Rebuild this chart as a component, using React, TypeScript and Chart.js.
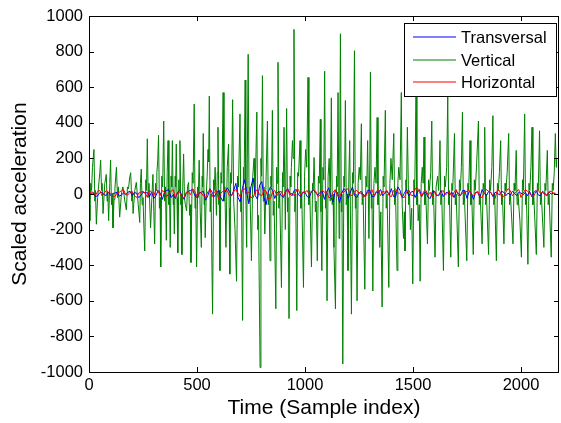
import React, { useEffect, useRef } from "react";
import { Chart, registerables } from "chart.js";

Chart.register(...registerables);

// Vertical channel: [sample index, scaled acceleration]
const verticalSamples: [number, number][] = [
  [0, -60], [4, -150], [8, 60], [12, 20], [16, 150], [23, 250], [27, -40], [30, 20], [34, -170], [40, -20],
  [44, 40], [50, 120], [54, 190], [58, 20], [61, 60], [65, -110], [73, 60], [80, 110], [84, -40], [87, 10],
  [91, -150], [96, 60], [100, 190], [104, -60], [107, 0], [111, -190], [116, -30], [120, 30], [127, 150], [132, -20],
  [136, 40], [142, -130], [150, 0], [157, 40], [166, -40], [173, -90], [178, 40], [183, 30], [188, 90], [193, 120],
  [198, -40], [201, 10], [204, -110], [212, 20], [219, 65], [228, -60], [235, -160], [238, 60], [242, 140], [246, -60],
  [250, -20], [254, -180], [258, -320], [263, 80], [266, 20], [270, 310], [274, -20], [278, 60], [285, -190], [291, -20],
  [296, 110], [300, -100], [304, -280], [308, 60], [311, 20], [314, 120], [318, 180], [322, 330], [326, -80], [329, -20],
  [332, -410], [337, 100], [341, 40], [346, 410], [350, -40], [354, 40], [358, -260], [362, 120], [366, 300], [370, -60],
  [373, 0], [376, -300], [380, 100], [383, 40], [386, 300], [390, -60], [392, 0], [395, -225], [399, 100], [401, 40],
  [404, 280], [408, -80], [410, -20], [412, -330], [416, 80], [418, 20], [421, 300], [425, -60], [427, 0], [430, -340],
  [434, 40], [438, 225], [442, -20], [446, -60], [452, -95], [456, 40], [461, 65], [466, -120], [469, -60], [472, -385],
  [478, 120], [482, 60], [487, 505], [491, -80], [494, 0], [498, -410], [503, 40], [506, -20], [510, 190], [515, -100],
  [520, -300], [524, 100], [526, 40], [529, 340], [533, -60], [535, 0], [538, -245], [543, 0], [547, 100], [551, 250],
  [554, 180], [557, 550], [561, -100], [565, 0], [572, -675], [577, 80], [580, 20], [584, 150], [590, -120], [594, 120],
  [597, 375], [601, -60], [603, 20], [606, -430], [611, 120], [615, 60], [621, 570], [625, -40], [629, 40], [634, -300],
  [640, 150], [646, 280], [649, -80], [652, -450], [656, 120], [660, 60], [665, 530], [670, -40], [676, -200], [683, -490],
  [688, 100], [692, 40], [699, 450], [703, -100], [706, 0], [711, -710], [715, 150], [718, 60], [723, 640], [726, 0],
  [730, -300], [733, 200], [737, 785], [741, -40], [745, 40], [752, -375], [758, 100], [764, 200], [768, 0], [771, 100],
  [777, 460], [781, -200], [785, -120], [792, -975], [796, 200], [799, 100], [803, 665], [807, -40], [810, 40], [814, -225],
  [820, 100], [826, 410], [830, -60], [834, 0], [838, -375], [842, 100], [845, 40], [849, 470], [853, -120], [857, -40],
  [865, -645], [869, 150], [872, 60], [875, 740], [879, -80], [883, 0], [891, -525], [896, 120], [899, 40], [903, 375],
  [909, -200], [915, 480], [919, -100], [922, -20], [926, -700], [931, 100], [934, 40], [937, 150], [942, 300], [945, 200],
  [949, 925], [953, -100], [957, 0], [962, -655], [966, 120], [970, 100], [977, 300], [981, -80], [985, 0], [993, -525],
  [998, 100], [1003, 250], [1008, 150], [1014, 655], [1018, -60], [1022, 20], [1030, -410], [1035, 60], [1038, 20], [1042, 205],
  [1048, -100], [1052, -40], [1057, -375], [1062, 100], [1066, 60], [1071, 420], [1074, -100], [1078, -430], [1083, 150], [1087, 80],
  [1091, 690], [1095, -80], [1098, 0], [1102, -600], [1107, 100], [1112, 200], [1117, -40], [1122, 540], [1126, -60], [1130, 0],
  [1134, -300], [1141, -645], [1146, 100], [1149, 40], [1153, 570], [1158, -250], [1161, 200], [1164, 900], [1168, -100], [1171, 0],
  [1175, -955], [1180, 100], [1183, 40], [1187, 525], [1191, -60], [1195, 0], [1199, -430], [1203, 100], [1207, 300], [1211, -200],
  [1215, -675], [1220, 120], [1224, 60], [1229, 805], [1233, -80], [1236, 0], [1241, -600], [1246, 60], [1251, 150], [1256, 80],
  [1261, 395], [1265, -60], [1269, 0], [1277, -535], [1282, 100], [1286, 40], [1290, 300], [1296, -250], [1300, 200], [1303, 685],
  [1307, -80], [1310, 0], [1314, -545], [1319, 60], [1324, 150], [1329, 60], [1334, 430], [1338, -60], [1342, 20], [1346, -300],
  [1351, -100], [1357, -635], [1362, 100], [1366, 40], [1372, 470], [1376, -80], [1380, 0], [1388, -525], [1393, 60], [1398, 200],
  [1404, 80], [1411, 340], [1415, -60], [1419, 20], [1426, -430], [1430, 60], [1434, 150], [1440, 80], [1446, 570], [1450, -60],
  [1456, -250], [1460, -100], [1463, -320], [1467, 80], [1470, 20], [1474, 375], [1480, -60], [1484, 0], [1488, -200], [1494, -80],
  [1499, -505], [1504, 80], [1508, 20], [1514, 545], [1518, -60], [1521, 20], [1524, -150], [1529, -60], [1533, -490], [1538, 60],
  [1543, 150], [1547, 60], [1551, 320], [1555, -60], [1559, 0], [1567, -280], [1572, 80], [1576, 20], [1582, 120], [1587, 410],
  [1591, -60], [1595, 20], [1602, -355], [1607, 40], [1614, 100], [1619, 20], [1625, 300], [1629, -60], [1633, 0], [1641, -430],
  [1646, 100], [1650, 40], [1656, 150], [1661, 545], [1665, -60], [1668, 20], [1675, -355], [1680, 60], [1684, 20], [1692, 340],
  [1696, -60], [1700, 0], [1710, -410], [1715, 80], [1719, 20], [1724, 150], [1729, 460], [1733, -60], [1737, 20], [1749, -375],
  [1754, 60], [1758, 20], [1764, 300], [1768, -60], [1772, 0], [1779, -340], [1784, 80], [1788, 20], [1794, 150], [1803, 410],
  [1807, -60], [1811, 0], [1820, -280], [1825, 60], [1829, 20], [1832, 375], [1836, -60], [1840, 0], [1850, -340], [1855, 80],
  [1859, 20], [1865, 150], [1870, 440], [1874, -60], [1878, 0], [1886, -375], [1891, 60], [1895, 20], [1900, 120], [1906, 300],
  [1910, -60], [1914, 0], [1921, -280], [1926, 60], [1930, 20], [1936, 120], [1943, 340], [1947, -60], [1951, 0], [1963, -280],
  [1968, 60], [1972, 20], [1978, 245], [1982, -60], [1986, 0], [1995, -150], [2002, -355], [2007, 80], [2011, 20], [2017, 450],
  [2021, -60], [2025, 0], [2032, -395], [2037, 60], [2041, 20], [2046, 150], [2051, 375], [2055, -60], [2059, 0], [2071, -340],
  [2076, 60], [2080, 20], [2086, 355], [2090, -60], [2094, 0], [2106, -300], [2111, 60], [2115, 20], [2122, 245], [2126, -60],
  [2130, 0], [2140, -355], [2145, 60], [2149, 20], [2154, 120], [2159, 340], [2163, 150], [2165, 200],
];

// Transversal and horizontal channels, one reading every 10 samples
const noiseStep = 10;
const transversalVal = [
  -10, 5, 5, -15, -10, 8, 10, -5, -8, 12, -8, 3, 5, 10, -12, -6, 6, -4, 10, 15,
  -10, 8, 5, -20, -10, 10, 5, 8, -15, 12, -25, -10, 20, 5, -30, 15, 20, 25, -20, -5,
  -25, 10, 20, -10, -30, 5, 15, 20, 25, -10, -20, 5, 10, 15, -35, -10, 30, 10, -15, 5,
  20, -20, -40, 10, 35, 15, -10, 20, 60, -20, -45, 30, 80, 10, -55, 40, 90, -10, -30, 50,
  70, -20, -60, 10, 40, 20, -25, 5, 15, -10, -20, 10, 30, 5, -10, 20, 25, -5, -15, 10,
  10, -15, -20, 15, 20, 5, -5, 10, 15, -30, 10, 35, -20, -45, 20, 10, -50, 5, 30, 20,
  -25, 10, 40, -10, -20, 5, 15, -5, -10, 20, 20, -15, -15, 10, 10, 25, -10, 5, 15, -5,
  30, -15, -15, 40, 20, -20, 5, 25, -10, 10, 15, -20, 10, 25, -15, 5, 10, -20, -25, 15,
  15, -10, -5, 20, -15, 5, 10, -5, 10, -20, 15, 5, -10, 20, 20, -25, 15, 5, -30, 10,
  10, -20, 25, 5, -10, 15, 10, -15, 10, 5, -5, 15, 10, -10, 5, -5, 15, 5, -10, 10,
  5, -5, 10, -10, 15, -15, 10, 20, -5, -10, 15, 5, -10, 10, 0, 5, 0,
];
const horizontalVal = [
  -5, 12, 10, -8, 15, 20, -10, 5, 20, 8, 5, -12, -15, 6, 10, 18, 25, -5, -5, 10,
  15, -10, -20, 5, 10, 15, 5, -18, 20, 10, -10, 25, 15, -8, 20, 10, -15, 5, 15, 25,
  -20, 5, 10, -15, -25, 10, 15, -5, 30, 15, -15, 10, 5, -10, -20, 12, 25, -15, 10, 20,
  -30, 5, 15, 20, 20, -10, -10, 15, 25, 5, -15, 20, 30, 10, 10, -20, -20, 15, 25, -5,
  -10, 20, 15, -25, -25, 10, 20, -10, 10, 15, -15, 20, 25, -5, 5, -10, 20, 25, -10, 10,
  10, 20, -5, 10, 20, 15, -15, -5, 20, 10, 15, -20, -20, 10, 25, -10, -15, 10, 10, 25,
  30, -5, -10, 15, 20, 5, 5, -15, -15, 10, 10, 25, -10, 15, 20, -10, 15, 10, 20, -10,
  -15, 20, 30, 5, 5, -20, -20, 10, 25, -5, -10, 30, 35, 10, -15, 15, 20, -5, 10, -20,
  15, -5, -10, 10, 20, -5, 5, 10, -15, 10, 25, -10, -5, 5, 10, 15, 20, -5, -10, 5,
  15, -15, -20, 10, 25, 15, 10, -10, -25, 20, 20, -15, -15, 10, 30, 20, -10, 5, 15, 25,
  -20, 5, 25, 15, 5, -10, -10, 15, 20, 5, 10, -5, -5, 15, 15, 5, 5,
];

const seriesNames = ["Transversal", "Vertical", "Horizontal"];
const seriesColors = ["#0000ff", "#008000", "#ff0000"];

const xMax = 2176;
const yMin = -1000;
const yMax = 1000;
const yStep = 200;
const xStep = 500;

const FONT = "'Liberation Sans', Arial, sans-serif";

// Box with inward tick marks on all four sides, plus the legend
const framePlugin = {
  id: "frame",
  afterDatasetsDraw(chart: any) {
    const { ctx, chartArea: a, scales } = chart;
    ctx.save();
    ctx.strokeStyle = "#000";
    ctx.lineWidth = 1;
    const len = 5;
    ctx.beginPath();
    scales.x.ticks.forEach((t: any) => {
      const px = Math.round(scales.x.getPixelForValue(t.value)) + 0.5;
      ctx.moveTo(px, a.bottom);
      ctx.lineTo(px, a.bottom - len);
      ctx.moveTo(px, a.top);
      ctx.lineTo(px, a.top + len);
    });
    scales.y.ticks.forEach((t: any) => {
      const py = Math.round(scales.y.getPixelForValue(t.value)) + 0.5;
      ctx.moveTo(a.left, py);
      ctx.lineTo(a.left + len, py);
      ctx.moveTo(a.right, py);
      ctx.lineTo(a.right - len, py);
    });
    ctx.stroke();
    ctx.strokeRect(Math.round(a.left) + 0.5, Math.round(a.top) + 0.5, Math.round(a.right - a.left) - 1, Math.round(a.bottom - a.top));
    ctx.restore();
  },
  afterDraw(chart: any) {
    const { ctx } = chart;
    ctx.save();
    const bx = 404.5, by = 23.5, bw = 152, bh = 73;
    ctx.fillStyle = "#fff";
    ctx.fillRect(bx, by, bw, bh);
    ctx.strokeStyle = "#000";
    ctx.lineWidth = 1;
    ctx.strokeRect(bx, by, bw, bh);
    const rows = [37, 60, 82];
    ctx.font = `16.5px ${FONT}`;
    ctx.textBaseline = "middle";
    ctx.textAlign = "left";
    seriesNames.forEach((name, i) => {
      ctx.strokeStyle = seriesColors[i];
      ctx.lineWidth = 1.2;
      ctx.beginPath();
      ctx.moveTo(413, rows[i]);
      ctx.lineTo(456, rows[i]);
      ctx.stroke();
      ctx.fillStyle = "#000";
      ctx.fillText(name, 461, rows[i] + 1);
    });
    ctx.restore();
  },
};

export default function App() {
  const canvasRef = useRef<HTMLCanvasElement | null>(null);

  useEffect(() => {
    document.body.style.margin = "0";
    const canvas = canvasRef.current;
    if (!canvas) return;

    const vertical = verticalSamples.map(([x, y]) => ({ x, y }));
    const transversal = transversalVal.map((y, i) => ({ x: i * noiseStep, y }));
    const horizontal = horizontalVal.map((y, i) => ({ x: i * noiseStep, y }));

    const chart = new Chart(canvas, {
      type: "line",
      data: {
        datasets: [
          { label: seriesNames[0], data: transversal, borderColor: seriesColors[0], borderWidth: 1, pointRadius: 0, tension: 0, order: 1 },
          { label: seriesNames[1], data: vertical, borderColor: seriesColors[1], borderWidth: 1, pointRadius: 0, tension: 0, order: 2 },
          { label: seriesNames[2], data: horizontal, borderColor: seriesColors[2], borderWidth: 1, pointRadius: 0, tension: 0, order: 0 },
        ],
      },
      options: {
        animation: false,
        responsive: false,
        maintainAspectRatio: false,
        layout: { padding: { top: 16, right: 2, left: 0, bottom: 0 } },
        plugins: { legend: { display: false }, tooltip: { enabled: false } },
        scales: {
          x: {
            type: "linear",
            min: 0,
            max: xMax,
            grid: { display: false, drawTicks: false },
            border: { display: false },
            afterFit: (s: any) => { s.height = 51; },
            afterBuildTicks: (s: any) => {
              const ticks = [];
              for (let v = 0; v <= xMax; v += xStep) ticks.push({ value: v });
              s.ticks = ticks;
            },
            ticks: { color: "#000", font: { family: FONT, size: 16.5 }, padding: 4, maxRotation: 0, callback: (v: any) => String(v) },
            title: { display: true, text: "Time (Sample index)", color: "#000", font: { family: FONT, size: 21 }, padding: { top: 2, bottom: 2 } },
          },
          y: {
            type: "linear",
            min: yMin,
            max: yMax,
            grid: { display: false, drawTicks: false },
            border: { display: false },
            afterFit: (s: any) => { s.width = 89; },
            ticks: { stepSize: yStep, color: "#000", font: { family: FONT, size: 16.5 }, padding: 6, callback: (v: any) => String(v) },
            title: { display: true, text: "Scaled acceleration", color: "#000", font: { family: FONT, size: 21 }, padding: { top: 8, bottom: 2 } },
          },
        },
      },
      plugins: [framePlugin],
    });
    return () => chart.destroy();
  }, []);

  return (
    <div style={{ position: "absolute", left: 0, top: 0, width: 561, height: 423, background: "#fff" }}>
      <canvas ref={canvasRef} width={561} height={423} style={{ width: 561, height: 423 }} />
    </div>
  );
}
